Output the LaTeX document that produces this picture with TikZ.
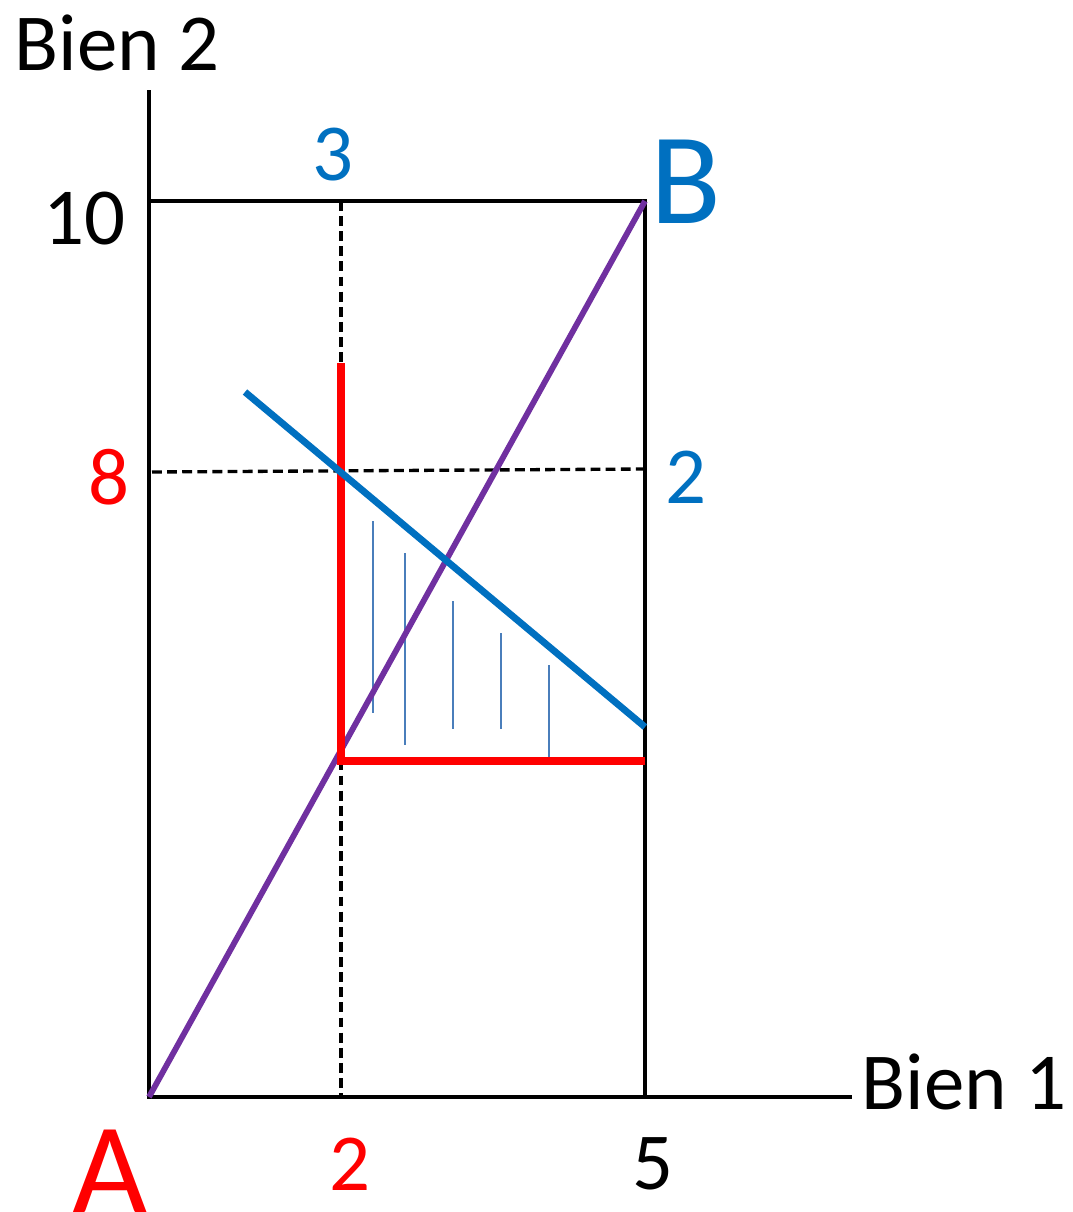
\documentclass[tikz,border=0pt]{standalone}
\usepackage{fontspec}
\setmainfont{Carlito}
\definecolor{BoxRed}{HTML}{FF0000}
\definecolor{BoxBlue}{HTML}{0070C0}
\definecolor{BoxPurple}{HTML}{7030A0}
\definecolor{HatchBlue}{HTML}{4A7EBB}
\usetikzlibrary{positioning}

\begin{document}
\begin{tikzpicture}[x=0.01cm,y=-0.01cm,
    axisline/.style={draw=black,line width=1pt},
    guideline/.style={draw=black,line width=0.95pt,dash pattern=on 2.8pt off 1.5pt},
    hatchline/.style={draw=HatchBlue,line width=0.6pt},
    ticklabel/.style={font=\fontsize{23}{27}\selectfont,inner sep=0pt},
    cornerlabel/.style={font=\fontsize{37}{40}\selectfont,inner sep=0pt}
  ]
  \useasboundingbox (0,0) rectangle (1072,1212);

  % corners of the box and axis ends
  \coordinate (originA) at (149,1097);
  \coordinate (originB) at (645,201);
  \coordinate (yaxisend) at (149,90);
  \coordinate (xaxisend) at (852,1097);
  \coordinate (boxtopleft) at (149,201);
  \coordinate (boxbotright) at (645,1097);

  % dashed guides
  \coordinate (guideTop) at (341,201);
  \coordinate (guideBot) at (341,1097);
  \coordinate (guideLeft) at (152,472);
  \coordinate (guideRight) at (645,469);

  % endowment corner and contract lines
  \coordinate (redTop) at (341,363);
  \coordinate (endow) at (341,761);
  \coordinate (redEnd) at (645,761);
  \coordinate (blueStart) at (245,392);
  \coordinate (blueEnd) at (645,727);

  \draw[axisline] (yaxisend) -- (originA) -- (xaxisend);
  \draw[axisline] (boxtopleft) -- (originB) -- (boxbotright);
  \draw[guideline] (guideTop) -- (guideBot);
  \draw[guideline] (guideLeft) -- (guideRight);

  % hatching of the lens
  \foreach \hx/\hy/\hz in {373/521/713,405/553/745,453/601/729,501/633/729,549/665/761}{
    \coordinate (h\hx a) at (\hx,\hy);
    \coordinate (h\hx b) at (\hx,\hz);
    \draw[hatchline] (h\hx a) -- (h\hx b);
  }

  \draw[BoxPurple,line width=1.65pt] (originA) -- (originB);
  \draw[BoxRed,line width=2.1pt] (redTop) -- (endow) -- (redEnd);
  \draw[BoxBlue,line width=1.95pt] (blueStart) -- (blueEnd);

  % labels
  \node[ticklabel] (bien2) at (117,43) {Bien 2};
  \node[ticklabel] (bien1) at (964,1082) {Bien 1};
  \node[ticklabel] (ten) at (84,219) {10};
  \node[ticklabel,text=BoxBlue] (three) at (333,155) {3};
  \node[ticklabel,text=BoxRed] (eight) at (109,477) {8};
  \node[ticklabel,text=BoxBlue] (twoB) at (686,477) {2};
  \node[ticklabel,text=BoxRed] (twoA) at (350,1164) {2};
  \node[ticklabel] (five) at (653,1164) {5};
  \node[cornerlabel,text=BoxBlue] (labelB) at (686,182) {B};
  \node[cornerlabel,text=BoxRed] (labelA) at (110,1172) {A};
\end{tikzpicture}
\end{document}
